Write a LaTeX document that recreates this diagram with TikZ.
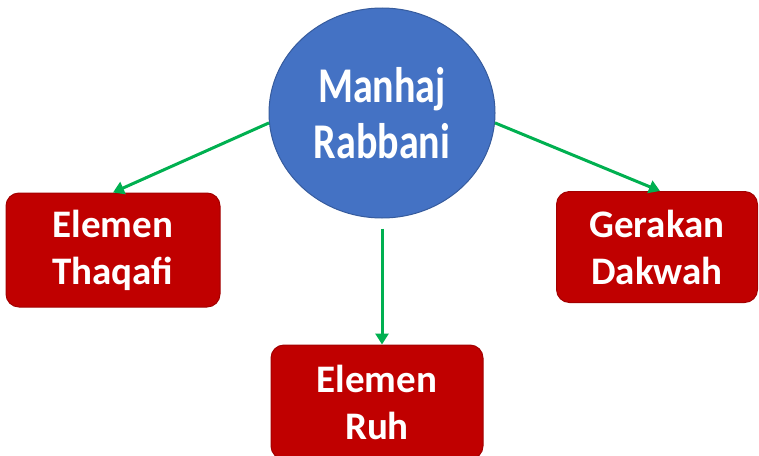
\documentclass[tikz,border=0pt]{standalone}
\usepackage{fontspec}
\setmainfont{Carlito}
\newfontfamily\titlefont[FakeStretch=0.8]{Carlito}
\usetikzlibrary{shapes.geometric,arrows.meta}

\definecolor{ovalblue}{HTML}{4472C4}
\definecolor{boxred}{HTML}{C00000}
\definecolor{arrowgreen}{HTML}{00B050}

\tikzset{
    hub/.style={ellipse, draw=ovalblue!80!black, fill=ovalblue, line width=1pt,
        minimum width=226pt, minimum height=210pt, text=white, align=center,
        font=\titlefont\bfseries\fontsize{50}{56}\selectfont},
    redbox/.style={rectangle, rounded corners=13pt, draw=boxred!85!black, fill=boxred,
        line width=1pt, text=white, align=center,
        font=\bfseries\fontsize{39}{47}\selectfont},
    link/.style={draw=arrowgreen, line width=3pt, -{Triangle[length=11pt,width=13pt]}}
}

\begin{document}
\begin{tikzpicture}[x=1pt,y=-1pt]

    \useasboundingbox (0,0) rectangle (759,455);
    \clip (0,0) rectangle (759,455);

    \node[hub] (manhaj) at (382,113) {Manhaj\\Rabbani};

    \node[redbox, minimum width=214pt, minimum height=114pt] (thaqafi) at (113,250) {Elemen\\Thaqafi};
    \node[redbox, minimum width=201pt, minimum height=111pt] (dakwah) at (657,247) {Gerakan\\Dakwah};
    \node[redbox, minimum width=212pt, minimum height=114pt] (ruh) at (377,402) {Elemen\\Ruh};

    \coordinate (ruhtop) at (ruh.north -| manhaj.south);

    \draw[link] (manhaj.185) -- (thaqafi.north);
    \draw[link] (manhaj.-5) -- ([xshift=3pt]dakwah.north);
    \draw[link] ([yshift=-10pt]manhaj.south) -- (ruhtop);

\end{tikzpicture}
\end{document}
